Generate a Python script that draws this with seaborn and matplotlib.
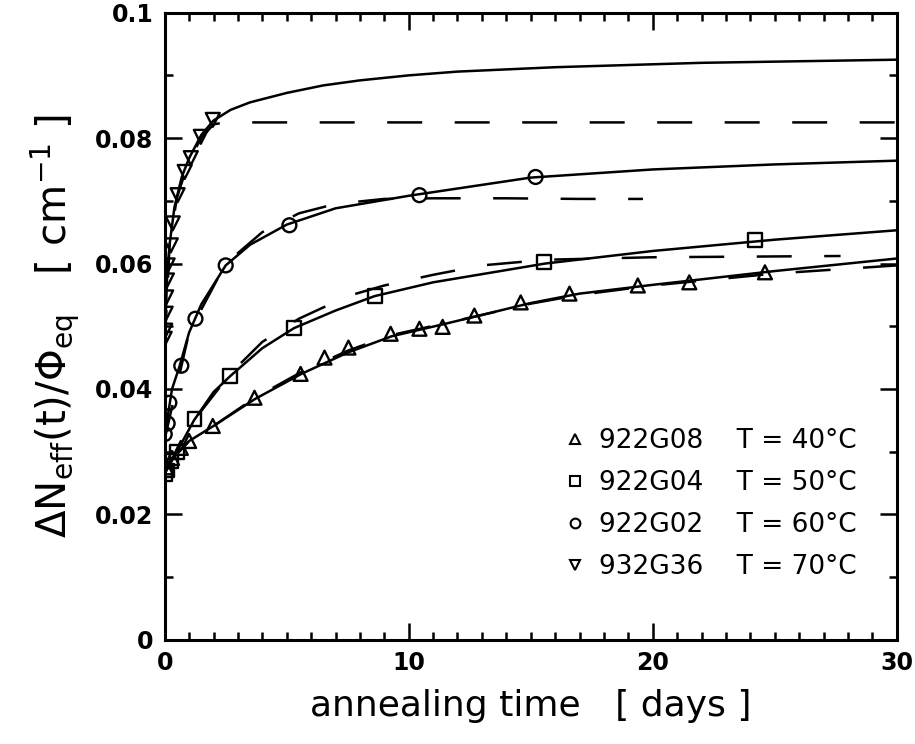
import matplotlib
matplotlib.use('Agg')
import matplotlib.pyplot as plt
import seaborn as sns
from matplotlib.lines import Line2D
from matplotlib.ticker import MultipleLocator

sns.set_style('ticks')
plt.rcParams['font.family'] = ['DejaVu Sans']
plt.rcParams['mathtext.default'] = 'regular'
for k in ['text.color', 'axes.labelcolor', 'axes.edgecolor', 'xtick.color', 'ytick.color']:
    plt.rcParams[k] = 'black'

# measured points (annealing time in days, dNeff/phi in cm^-1)
t_40 = [0.05, 0.3, 0.66, 1.0, 1.97, 3.68, 5.57, 6.55, 7.53, 9.26, 10.44, 11.39, 12.69, 14.59, 16.59, 19.39, 21.5, 24.6]
v_40 = [0.0275, 0.029, 0.0306, 0.0317, 0.0341, 0.0386, 0.0424, 0.045, 0.0466, 0.0488, 0.0496, 0.0499, 0.0517, 0.0538, 0.0552, 0.0565, 0.057, 0.0586]

t_50 = [0.0, 0.1, 0.25, 0.5, 1.22, 2.69, 5.31, 8.62, 15.56, 24.2]
v_50 = [0.0265, 0.027, 0.0285, 0.030, 0.0352, 0.0421, 0.0497, 0.0548, 0.0602, 0.0638]

t_60 = [0.0, 0.12, 0.19, 0.68, 1.26, 2.5, 5.11, 10.44, 15.2]
v_60 = [0.0328, 0.0345, 0.0378, 0.0437, 0.0512, 0.0597, 0.0661, 0.0709, 0.0738]

t_70 = [0.0, 0.02, 0.04, 0.06, 0.09, 0.12, 0.25, 0.33, 0.53, 0.82, 1.07, 1.48, 1.97]
v_70 = [0.048, 0.0493, 0.052, 0.0546, 0.0573, 0.0597, 0.0629, 0.0664, 0.0709, 0.0746, 0.0768, 0.0802, 0.0829]

# fit curves (solid)
fit_t_40 = [0, 0.3, 0.7, 1, 2, 3.7, 5.6, 7.5, 9.3, 11.4, 13, 15, 17, 20, 25, 30]
fit_v_40 = [0.0275, 0.029, 0.0305, 0.0317, 0.0341, 0.0384, 0.0424, 0.0458, 0.0484, 0.0503, 0.0518, 0.0537, 0.0552, 0.0566, 0.0588, 0.0608]
fit_t_50 = [0, 0.2, 0.5, 1.2, 2, 2.7, 4, 5.3, 7, 8.6, 11, 15.6, 20, 25, 30]
fit_v_50 = [0.0265, 0.028, 0.030, 0.035, 0.0395, 0.0421, 0.0465, 0.0497, 0.0525, 0.0548, 0.0570, 0.0600, 0.0620, 0.0638, 0.0653]
fit_t_60 = [0, 0.1, 0.3, 0.6, 1.0, 1.5, 2.5, 3.5, 5, 7, 10, 15, 20, 25, 30]
fit_v_60 = [0.032, 0.035, 0.040, 0.0435, 0.049, 0.0535, 0.0597, 0.063, 0.0662, 0.0688, 0.0708, 0.0737, 0.0750, 0.0758, 0.0764]
fit_t_70 = [0, 0.1, 0.2, 0.4, 0.7, 1.0, 1.5, 2.0, 2.7, 3.5, 5, 6.5, 8, 10, 12, 16, 22, 30]
fit_v_70 = [0.047, 0.058, 0.063, 0.069, 0.0738, 0.0768, 0.0805, 0.0828, 0.0845, 0.0857, 0.0872, 0.0884, 0.0892, 0.0900, 0.0906, 0.0913, 0.0920, 0.0925]

# second model (dashed)
dash_t_40 = [0, 1, 2, 3.7, 5.6, 7.5, 9.3, 11.4, 13, 15, 17, 20, 25, 30]
dash_v_40 = [0.0275, 0.0317, 0.0341, 0.0386, 0.0427, 0.0461, 0.0486, 0.0504, 0.0518, 0.0536, 0.0550, 0.0565, 0.0584, 0.0597]
dash_t_50 = [0, 1.2, 2.7, 4, 5.5, 7.5, 9, 11, 13, 15.6, 20, 27.7]
dash_v_50 = [0.0265, 0.035, 0.0425, 0.0475, 0.0512, 0.0548, 0.0565, 0.0582, 0.0597, 0.0606, 0.0610, 0.0612]
dash_t_60 = [0, 1.0, 2.5, 4, 5.5, 7, 9, 11, 14, 17, 19.6]
dash_v_60 = [0.032, 0.049, 0.0600, 0.0650, 0.0680, 0.0695, 0.0703, 0.0704, 0.0704, 0.0703, 0.0703]
dash_t_70 = [0, 0.2, 0.5, 1.0, 1.5, 2.0, 2.5, 30]
dash_v_70 = [0.047, 0.063, 0.0705, 0.0765, 0.080, 0.0822, 0.0825, 0.0825]

samples = ['922G08', '922G04', '922G02', '932G36']
temps = ['T = 40°C', 'T = 50°C', 'T = 60°C', 'T = 70°C']
markers = ['^', 's', 'o', 'v']

pts = [(t_40, v_40), (t_50, v_50), (t_60, v_60), (t_70, v_70)]
fits = [(fit_t_40, fit_v_40), (fit_t_50, fit_v_50), (fit_t_60, fit_v_60), (fit_t_70, fit_v_70)]
dashed = [(dash_t_40, dash_v_40), (dash_t_50, dash_v_50), (dash_t_60, dash_v_60), (dash_t_70, dash_v_70)]

fig = plt.figure(figsize=(9.15, 7.44), dpi=100)
ax = fig.add_axes([0.180, 0.140, 0.800, 0.843])

for (tx, vy) in dashed:
    sns.lineplot(x=tx, y=vy, ax=ax, color='black', lw=1.8, sort=False,
                 estimator=None, linestyle=(0, (14, 13)))
for (tx, vy) in fits:
    sns.lineplot(x=tx, y=vy, ax=ax, color='black', lw=1.8, sort=False, estimator=None)
for (tx, vy), m in zip(pts, markers):
    sns.scatterplot(x=tx, y=vy, ax=ax, marker=m, s=100, facecolor='none',
                    edgecolor='black', linewidth=1.7, zorder=5)

ax.set_xlim(0, 30)
ax.set_ylim(0, 0.1)
ax.set_xticks([0, 10, 20, 30])
ax.set_xticklabels(['0', '10', '20', '30'])
ax.set_yticks([0, 0.02, 0.04, 0.06, 0.08, 0.1])
ax.set_yticklabels(['0', '0.02', '0.04', '0.06', '0.08', '0.1'])
ax.xaxis.set_minor_locator(MultipleLocator(1))
ax.yaxis.set_minor_locator(MultipleLocator(0.01))
ax.tick_params(which='both', direction='in', top=True, right=True, width=1.8)
ax.tick_params(which='major', length=12, labelsize=17, pad=8)
ax.tick_params(which='minor', length=6)
for lab in ax.get_xticklabels() + ax.get_yticklabels():
    lab.set_fontweight('bold')
for s in ax.spines.values():
    s.set_linewidth(2.2)

ax.set_xlabel('annealing time   [ days ]', fontsize=26, labelpad=10)
ax.set_ylabel(r'$\Delta N_{eff}(t)/\Phi_{eq}$   [ cm$^{-1}$ ]', fontsize=29, labelpad=10)

handles = [Line2D([], [], marker=m, ls='none', mfc='none', mec='black', ms=7, mew=1.5) for m in markers]
labels = [f'{s}    {t}' for s, t in zip(samples, temps)]
ax.legend(handles, labels, loc='upper left', bbox_to_anchor=(0.51, 0.375), frameon=False,
          fontsize=19, handletextpad=0.4, labelspacing=0.6, handlelength=1.0)

plt.savefig('out.png', dpi=100)
plt.close()
